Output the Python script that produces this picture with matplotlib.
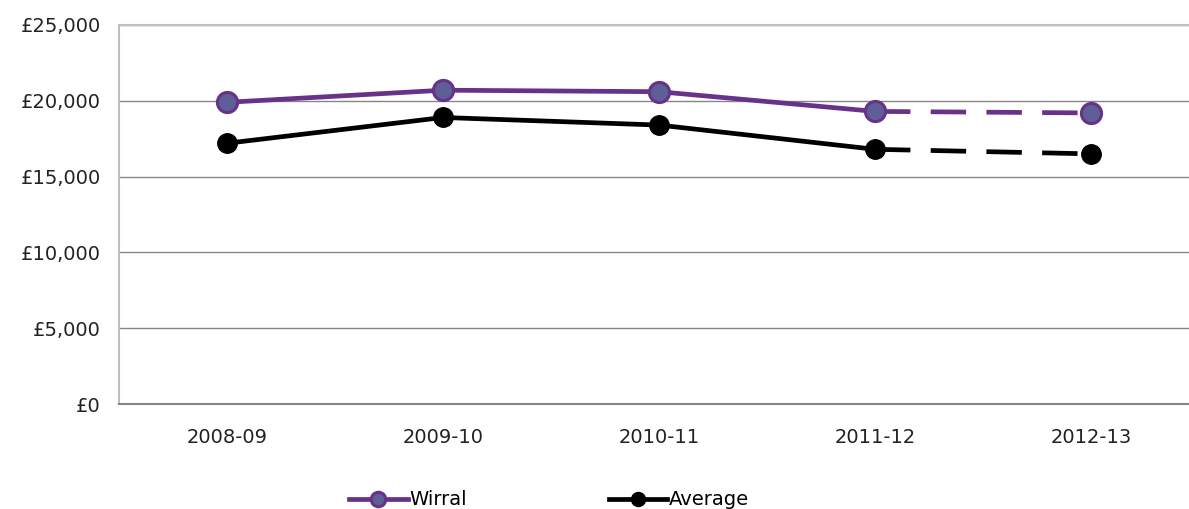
import matplotlib
matplotlib.use("Agg")
import matplotlib.pyplot as plt
from matplotlib.ticker import FuncFormatter

categories = ["2008-09", "2009-10", "2010-11", "2011-12", "2012-13"]
wirral = [19900, 20700, 20600, 19300, 19200]
average = [17200, 18900, 18400, 16800, 16500]
yticks = [0, 5000, 10000, 15000, 20000, 25000]

plt.rcParams['font.family'] = ['DejaVu Sans']
fig = plt.figure(figsize=(11.89, 5.09), dpi=100)
ax = fig.add_axes([119/1189, 105/509, 1080/1189, 379/509])

x = list(range(len(categories)))
purple = "#68318A"
pface = "#5E5F96"
LW = 3.4

def plot_series(vals, color, face, mew, ms, label):
    n = len(vals)
    ax.plot(x[:n-1], vals[:n-1], color=color, lw=LW, solid_capstyle='butt', zorder=3)
    ax.plot(x[n-2:], vals[n-2:], color=color, lw=LW, linestyle=(0, (7.5, 4.3)), dash_capstyle='butt', zorder=3)
    ax.plot(x, vals, linestyle='none', marker='o', ms=ms, mfc=face, mec=color, mew=mew, zorder=4)
    h, = ax.plot([], [], color=color, lw=LW, marker='o', ms=ms*0.72, mfc=face, mec=color, mew=mew, label=label)
    return h

h1 = plot_series(wirral, purple, pface, 2.2, 14.5, "Wirral")
h2 = plot_series(average, "black", "black", 1, 14, "Average")

ax.set_xlim(-0.5, 4.5)
ax.set_ylim(0, 25000)
ax.set_yticks(yticks)
ax.yaxis.set_major_formatter(FuncFormatter(lambda v, p: "£{:,.0f}".format(v)))
ax.set_xticks(x)
ax.set_xticklabels(categories)
ax.tick_params(axis='both', length=0, labelsize=14, colors='#222222')
ax.tick_params(axis='y', pad=13)
ax.tick_params(axis='x', pad=17)

ax.grid(axis='y', color='#868686', lw=1)
ax.set_axisbelow(True)
ax.spines['right'].set_visible(False)
ax.spines['top'].set_color('#bfbfbf')
ax.spines['top'].set_linewidth(1.5)
ax.spines['left'].set_color('#bfbfbf')
ax.spines['left'].set_linewidth(1.5)
ax.spines['bottom'].set_color('#868686')
ax.spines['bottom'].set_linewidth(1.5)

fig.legend(handles=[h1, h2], loc='center', bbox_to_anchor=(0.462, 0.018), ncol=2,
           frameon=False, fontsize=14, handlelength=3.0, handletextpad=0.1,
           columnspacing=7.3)

fig.savefig("out.png", dpi=100)
